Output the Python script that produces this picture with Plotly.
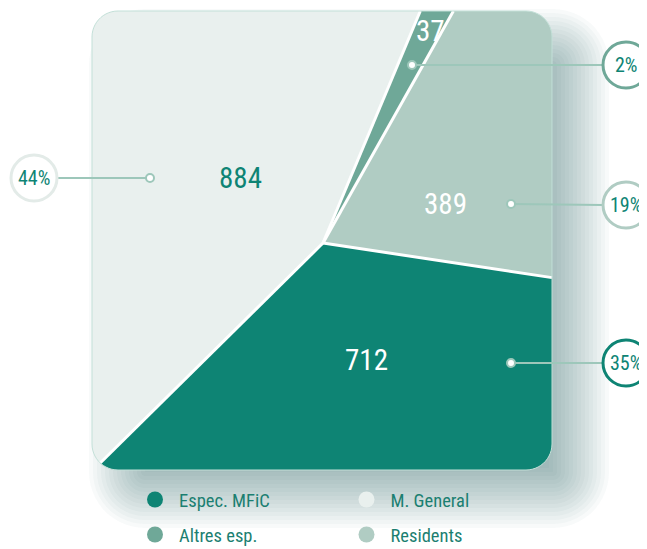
import numpy as np
import plotly.graph_objects as go

# ---------------- data ----------------
categories = ["Espec. MFiC", "M. General", "Altres esp.", "Residents"]
values = [712, 884, 37, 389]
colors = ["#0e8474", "#e9f0ee", "#6fa898", "#b0ccc3"]
ring_colors = ["#0e8474", "#e3ebe8", "#6fa898", "#b0ccc3"]
value_text_colors = ["#ffffff", "#0e8474", "#ffffff", "#ffffff"]

# ---------------- layout constants ----------------
W, H = 647, 549
OFF = 8                    # page body margin
CX, CY = 323, 243          # pie centre (page px)
START = -8.6               # start angle (deg, maths convention), clockwise
R = 600
CARD = (92, 11, 552, 470, 26)
TEAL = "#0e8474"
LINE_C = "#9dc7ba"
FONT = "Roboto Condensed, DejaVu Sans Condensed, sans-serif"

label_xy = [(366, 360), (240, 178), (430, 31), (445, 204)]
dot_xy = [(511, 363), (150, 178), (412, 65), (511, 204)]
circ_xy = [(626, 363), (34, 178), (626, 65), (626, 205)]
CIRC_R = 23


def rounded_rect(x0, y0, x1, y1, r, n=14):
    r = max(r, 1)
    pts = []
    corners = [(x1 - r, y0 + r, -90, 0), (x1 - r, y1 - r, 0, 90),
               (x0 + r, y1 - r, 90, 180), (x0 + r, y0 + r, 180, 270)]
    for cx, cy, a0, a1 in corners:
        for a in np.linspace(a0, a1, n):
            t = np.radians(a)
            pts.append((cx + r * np.cos(t), cy + r * np.sin(t)))
    return pts


def clip(subject, clipper):
    n = len(clipper)
    area = sum(clipper[i][0] * clipper[(i + 1) % n][1] - clipper[(i + 1) % n][0] * clipper[i][1]
               for i in range(n))
    sign = 1 if area > 0 else -1

    def inside(p, a, b):
        return sign * ((b[0] - a[0]) * (p[1] - a[1]) - (b[1] - a[1]) * (p[0] - a[0])) >= 0

    def inter(p, q, a, b):
        x1, y1 = p; x2, y2 = q; x3, y3 = a; x4, y4 = b
        d = (x1 - x2) * (y3 - y4) - (y1 - y2) * (x3 - x4)
        if abs(d) < 1e-12:
            return q
        t = ((x1 - x3) * (y3 - y4) - (y1 - y3) * (x3 - x4)) / d
        return (x1 + t * (x2 - x1), y1 + t * (y2 - y1))

    out = list(subject)
    for i in range(n):
        a, b = clipper[i], clipper[(i + 1) % n]
        inp, out = out, []
        if not inp:
            break
        s = inp[-1]
        for e in inp:
            if inside(e, a, b):
                if not inside(s, a, b):
                    out.append(inter(s, e, a, b))
                out.append(e)
            elif inside(s, a, b):
                out.append(inter(s, e, a, b))
            s = e
    return out


def inside_card(x, y):
    x0, y0, x1, y1, r = CARD
    if x < x0 or x > x1 or y < y0 or y > y1:
        return False
    qx = min(max(x, x0 + r), x1 - r)
    qy = min(max(y, y0 + r), y1 - r)
    return (x - qx) ** 2 + (y - qy) ** 2 <= r * r


def pt(angle_deg, rad):
    t = np.radians(angle_deg)
    return (CX + rad * np.cos(t), CY - rad * np.sin(t))


def path_from(pts):
    s = "M %.2f,%.2f " % pts[0]
    s += " ".join("L %.2f,%.2f" % p for p in pts[1:])
    return s + " Z"


card_poly = rounded_rect(*CARD)
total = sum(values)

fig = go.Figure()

# ---------------- shadow ----------------
shapes = []
x0, y0, x1, y1, r = CARD
SDX, SDY = 27, 28
for e in range(-30, 33, 4):
    poly = rounded_rect(x0 - e + SDX, y0 - e + SDY, x1 + e + SDX, y1 + e + SDY, r + e)
    shapes.append(dict(type="path", path=path_from(poly), xref="x", yref="y",
                       fillcolor="rgba(45,100,100,0.033)", line=dict(width=0), layer="below"))

# ---------------- slices ----------------
a = START
bounds = []
for cat, v, col in zip(categories, values, colors):
    span = v / total * 360
    a0, a1 = a, a - span
    bounds.append(a0)
    arc = [pt(t, R) for t in np.linspace(a0, a1, 80)]
    wedge = [(CX, CY)] + arc
    poly = clip(wedge, card_poly)
    poly.append(poly[0])
    fig.add_trace(go.Scatter(
        x=[p[0] for p in poly], y=[p[1] for p in poly], mode="lines",
        fill="toself", fillcolor=col, line=dict(width=0), name=cat,
        showlegend=False, hoverinfo="skip"))
    a = a1

# separators
sx, sy = [], []
for b in bounds:
    lo, hi = 0.0, float(R)
    for _ in range(50):
        mid = (lo + hi) / 2
        if inside_card(*pt(b, mid)):
            lo = mid
        else:
            hi = mid
    p = pt(b, lo)
    sx += [CX, p[0], None]
    sy += [CY, p[1], None]
fig.add_trace(go.Scatter(x=sx, y=sy, mode="lines", line=dict(color="white", width=3),
                         showlegend=False, hoverinfo="skip"))

# card border
shapes.append(dict(type="path", path=path_from(card_poly), xref="x", yref="y",
                   line=dict(color="#c3e0d8", width=1), fillcolor="rgba(0,0,0,0)", layer="above"))

# ---------------- callouts ----------------
annotations = []
for i, v in enumerate(values):
    dxp, dyp = dot_xy[i]
    cxp, cyp = circ_xy[i]
    edge = cxp - CIRC_R if cxp > dxp else cxp + CIRC_R
    shapes.append(dict(type="line", x0=dxp, y0=dyp, x1=edge, y1=cyp, xref="x", yref="y",
                       line=dict(color=LINE_C, width=2), layer="above"))
    shapes.append(dict(type="circle", x0=dxp - 4, y0=dyp - 4, x1=dxp + 4, y1=dyp + 4,
                       xref="x", yref="y", fillcolor="white",
                       line=dict(color=LINE_C, width=2), layer="above"))
    shapes.append(dict(type="circle", x0=cxp - CIRC_R, y0=cyp - CIRC_R, x1=cxp + CIRC_R,
                       y1=cyp + CIRC_R, xref="x", yref="y", fillcolor="white",
                       line=dict(color=ring_colors[i], width=3), layer="above"))
    annotations.append(dict(x=cxp, y=cyp, xref="x", yref="y", text=f"{round(v / total * 100)}%",
                            showarrow=False, font=dict(family=FONT, size=20, color=TEAL)))
    lx, ly = label_xy[i]
    annotations.append(dict(x=lx, y=ly, xref="x", yref="y", text=str(v), showarrow=False,
                            font=dict(family=FONT, size=29, color=value_text_colors[i])))

# ---------------- legend ----------------
for i, (cat, col) in enumerate(zip(categories, colors)):
    fig.add_trace(go.Scatter(x=[None], y=[None], mode="markers", name=cat,
                             marker=dict(size=16, color=col, symbol="circle"),
                             legend="legend" if i < 2 else "legend2"))

ITEMW = 38
leg_common = dict(orientation="h", xanchor="left", yanchor="middle",
                  entrywidth=206.5 - (ITEMW + 10), entrywidthmode="pixels",
                  bgcolor="rgba(0,0,0,0)", itemwidth=ITEMW,
                  font=dict(family=FONT, size=18.5, color="#1b7f71"))


def px(xp):
    return (xp - OFF) / W


def py(yp):
    return 1 - (yp - OFF) / H


fig.update_layout(
    width=W, height=H, margin=dict(l=0, r=0, t=0, b=0),
    paper_bgcolor="white", plot_bgcolor="white",
    xaxis=dict(range=[OFF, W + OFF], visible=False, fixedrange=True),
    yaxis=dict(range=[H + OFF, OFF], visible=False, fixedrange=True),
    shapes=shapes, annotations=annotations,
    legend=dict(x=px(131), y=py(500), **leg_common),
    legend2=dict(x=px(131), y=py(535), **leg_common),
)

fig.write_html("out.html")
